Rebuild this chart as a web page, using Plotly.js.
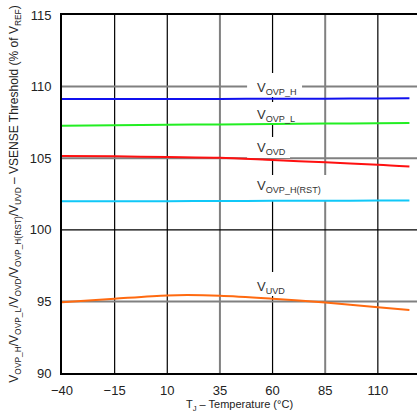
<!DOCTYPE html>
<html>
<head>
<meta charset="utf-8">
<script src="https://cdn.plot.ly/plotly-3.0.1.min.js"></script>
<style>html,body{margin:0;padding:0;background:#fff;}#chart{width:417px;height:417px;}</style>
</head>
<body>
<div id="chart"></div>
<script>
// Temperature (°C)
const temps = [-40, -15, 10, 35, 60, 85, 110, 125];
// Thresholds (% of VREF)
const vOvpH    = [109.13, 109.13, 109.13, 109.14, 109.15, 109.16, 109.17, 109.18];
const vOvpL    = [107.27, 107.30, 107.33, 107.36, 107.39, 107.42, 107.44, 107.46];
const vOvd     = [105.15, 105.13, 105.08, 105.03, 104.87, 104.71, 104.55, 104.42];
const vOvpHRst = [102.00, 102.00, 102.00, 102.01, 102.02, 102.03, 102.04, 102.05];
const vUvd     = [94.94, 95.19, 95.42, 95.40, 95.19, 94.92, 94.60, 94.40];

const seriesNames = ['V<sub>OVP_H</sub>', 'V<sub>OVP_L</sub>', 'V<sub>OVD</sub>', 'V<sub>OVP_H(RST)</sub>', 'V<sub>UVD</sub>'];
const seriesData = [vOvpH, vOvpL, vOvd, vOvpHRst, vUvd];
const seriesColors = ['#1010ee', '#22ee22', '#ff1010', '#10c8f8', '#ff6a10'];
// label anchor positions (data coords)
const labelX = [52, 52, 52, 52, 52];
const labelY = [109.85, 107.95, 105.65, 103.0, 96.0];
// white label backgrounds (data coords): [x0, x1, y0, y1]
const labelBoxes = [
  [47.9, 74.0, 109.27, 110.95],
  [47.9, 73.0, 107.32, 108.92],
  [47.9, 68.3, 105.01, 106.48],
  [47.9, 86.4, 102.08, 103.83],
  [47.9, 68.3, 95.38, 97.05]
];

const xTicks = [-40, -15, 10, 35, 60, 85, 110];
const yTicks = [90, 95, 100, 105, 110, 115];
const xGridColors = ['#000', '#000', '#000', '#808080', '#000', '#808080', '#000'];
const yGridColors = ['#000', '#808080', '#000', '#808080', '#808080', '#000'];

const traces = seriesData.map((d, i) => ({
  x: temps, y: d, type: 'scatter', mode: 'lines',
  line: {color: seriesColors[i], width: 2, shape: 'spline', smoothing: 0.8},
  name: seriesNames[i], hoverinfo: 'skip'
}));

const shapes = [];
xTicks.forEach((t, i) => {
  if (i === 0) return;
  const gray = xGridColors[i] !== '#000';
  shapes.push({type: 'line', xref: 'x', yref: 'paper', x0: t, x1: t, y0: 0, y1: 1,
    line: {color: xGridColors[i], width: gray ? 2 : 1.2}, layer: 'below'});
});
yTicks.forEach((t, i) => {
  if (i === 0 || i === yTicks.length - 1) return;
  const gray = yGridColors[i] !== '#000';
  shapes.push({type: 'line', xref: 'paper', yref: 'y', x0: 0, x1: 1, y0: t, y1: t,
    line: {color: yGridColors[i], width: gray ? 2 : 1.2}, layer: 'below'});
});
labelBoxes.forEach(b => {
  shapes.push({type: 'rect', xref: 'x', yref: 'y', x0: b[0], x1: b[1], y0: b[2], y1: b[3],
    fillcolor: '#ffffff', line: {width: 0}, layer: 'below'});
});

const annotations = seriesNames.map((n, i) => ({
  x: labelX[i], y: labelY[i], xref: 'x', yref: 'y', text: n, showarrow: false,
  xanchor: 'left', yanchor: 'middle', borderpad: 0,
  font: {family: 'Liberation Sans, Arial, sans-serif', size: 13, color: '#333'}
}));

const layout = {
  width: 417, height: 417,
  margin: {l: 62, r: 0, t: 15, b: 44},
  paper_bgcolor: '#fff', plot_bgcolor: '#fff',
  showlegend: false,
  xaxis: {
    range: [-40, 128.6], tickvals: xTicks, showgrid: false, zeroline: false,
    showline: true, linecolor: '#000', linewidth: 2, mirror: true, ticks: '',
    ticklabelstandoff: 4,
    tickfont: {family: 'Liberation Sans, Arial, sans-serif', size: 13, color: '#222'},
    title: {text: 'T<sub>J</sub> – Temperature (°C)', standoff: 4,
      font: {family: 'Liberation Sans, Arial, sans-serif', size: 11, color: '#222'}}
  },
  yaxis: {
    range: [90, 115], tickvals: yTicks, showgrid: false, zeroline: false,
    showline: true, linecolor: '#000', linewidth: 2, ticks: '',
    ticklabelstandoff: 6,
    tickfont: {family: 'Liberation Sans, Arial, sans-serif', size: 13, color: '#222'},
    title: {text: 'V<sub>OVP_H</sub>/V<sub>OVP_L</sub>/V<sub>OVD</sub>/V<sub>OVP_H(RST)</sub>/V<sub>UVD</sub> – VSENSE Threshold (% of V<sub>REF</sub>)', standoff: 8,
      font: {family: 'Liberation Sans, Arial, sans-serif', size: 12, color: '#222'}}
  },
  shapes: shapes,
  annotations: annotations
};

Plotly.newPlot('chart', traces, layout, {staticPlot: true, displayModeBar: false});
</script>
</body>
</html>
